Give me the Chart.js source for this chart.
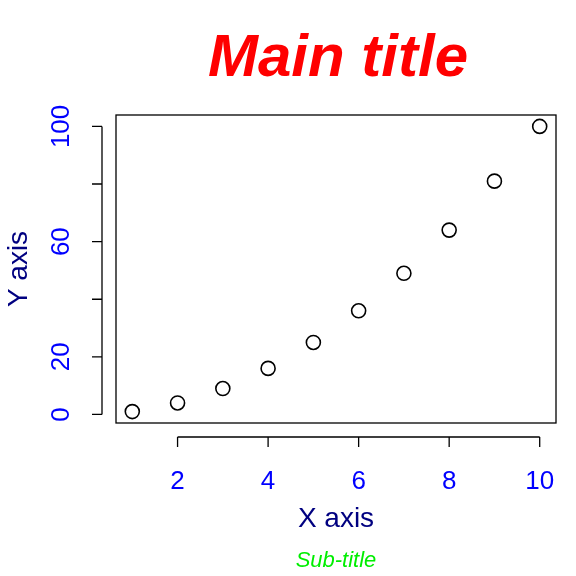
<!DOCTYPE html>
<html><head><meta charset="utf-8">
<script src="https://cdn.jsdelivr.net/npm/chart.js@4/dist/chart.umd.min.js"></script>
<style>html,body{margin:0;background:#fff}</style>
</head><body>
<div style="width:576px;height:576px"><canvas id="c"></canvas></div>
<script>
const xValues = [1, 2, 3, 4, 5, 6, 7, 8, 9, 10];
const yValues = [1, 4, 9, 16, 25, 36, 49, 64, 81, 100];
const xTicks = [2, 4, 6, 8, 10];
const yTicks = [0, 20, 40, 60, 80, 100];
const yTickLabels = ['0', '20', '', '60', '', '100'];

const font = '"Liberation Sans", Arial, sans-serif';

const rAxes = {
    id: 'rAxes',
    afterDraw(chart) {
        const ctx = chart.ctx, a = chart.chartArea;
        const xs = chart.scales.x, ys = chart.scales.y;
        ctx.save();
        ctx.strokeStyle = '#000';
        ctx.lineWidth = 1.3;
        ctx.strokeRect(a.left, a.top, a.right - a.left, a.bottom - a.top);
        // x axis
        const ay = a.bottom + 14;
        ctx.beginPath();
        ctx.moveTo(xs.getPixelForValue(xTicks[0]), ay);
        ctx.lineTo(xs.getPixelForValue(xTicks[xTicks.length - 1]), ay);
        xTicks.forEach(v => { const p = xs.getPixelForValue(v); ctx.moveTo(p, ay); ctx.lineTo(p, ay + 10); });
        // y axis
        const ax = a.left - 14;
        ctx.moveTo(ax, ys.getPixelForValue(yTicks[0]));
        ctx.lineTo(ax, ys.getPixelForValue(yTicks[yTicks.length - 1]));
        yTicks.forEach(v => { const p = ys.getPixelForValue(v); ctx.moveTo(ax, p); ctx.lineTo(ax - 10, p); });
        ctx.stroke();
        ctx.fillStyle = '#0000ff';
        ctx.font = '26px ' + font;
        ctx.textAlign = 'center';
        ctx.textBaseline = 'middle';
        xTicks.forEach(v => ctx.fillText(String(v), xs.getPixelForValue(v), 482));
        yTicks.forEach((v, i) => {
            ctx.save();
            ctx.translate(62, ys.getPixelForValue(v));
            ctx.rotate(-Math.PI / 2);
            ctx.fillText(yTickLabels[i], 0, 0);
            ctx.restore();
        });
        // titles
        ctx.fillStyle = '#ff0000';
        ctx.font = 'italic bold 60px ' + font;
        ctx.fillText('Main title', 338, 59);
        ctx.fillStyle = '#000080';
        ctx.font = '28px ' + font;
        ctx.fillText('X axis', (a.left + a.right) / 2, 519);
        ctx.save();
        ctx.translate(19, (a.top + a.bottom) / 2);
        ctx.rotate(-Math.PI / 2);
        ctx.fillText('Y axis', 0, 0);
        ctx.restore();
        ctx.fillStyle = '#00ee00';
        ctx.font = 'italic 22px ' + font;
        ctx.fillText('Sub-title', (a.left + a.right) / 2, 561);
        ctx.restore();
    }
};

new Chart(document.getElementById('c'), {
    type: 'scatter',
    data: {
        datasets: [{
            data: xValues.map((x, i) => ({ x: x, y: yValues[i] })),
            pointRadius: 7,
            pointBorderWidth: 1.6,
            pointBorderColor: '#000',
            pointBackgroundColor: 'rgba(0,0,0,0)'
        }]
    },
    options: {
        responsive: true,
        maintainAspectRatio: false,
        animation: false,
        layout: { padding: { left: 116, right: 20, top: 115, bottom: 153 } },
        plugins: { legend: { display: false }, tooltip: { enabled: false } },
        scales: {
            x: { type: 'linear', min: 0.64, max: 10.36, display: false },
            y: { type: 'linear', min: -2.96, max: 103.96, display: false }
        }
    },
    plugins: [rAxes]
});
</script>
</body></html>
